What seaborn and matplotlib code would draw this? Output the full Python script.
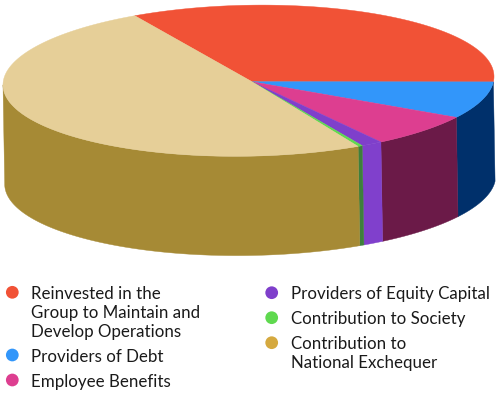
import numpy as np
import pandas as pd
import matplotlib
matplotlib.use('Agg')
import matplotlib.pyplot as plt
import seaborn as sns

# Share of each slice, percent
labels = ['Reinvested in the\nGroup to Maintain and\nDevelop Operations', 'Providers of Debt', 'Employee Benefits',
          'Providers of Equity Capital', 'Contribution to Society', 'Contribution to\nNational Exchequer']
values = [33.8, 7.8, 7.0, 1.4, 0.3, 49.7]
top_colors = ['#F15236', '#3296FA', '#DD3E90', '#7F3FCB', '#5FD94F', '#E6CF98']
side_colors = ['#A8341F', '#00306B', '#6B1A48', '#8040CC', '#3E7F3C', '#A68A35']
legend_colors = ['#F15236', '#3296FA', '#DD3E90', '#7F3FCB', '#5FD94F', '#D5A93F']

sns.set_theme(style='white')
plt.rcParams['font.family'] = ['Lato', 'DejaVu Sans']

fig = plt.figure(figsize=(5, 3.93), dpi=100)
ax = fig.add_axes([0, 0, 1, 1])
ax.set_xlim(0, 500)
ax.set_ylim(393, 0)

# Pie geometry in pixels
cx, cy = 248.5, 80.7
rx, ry = 245.5, 75.5
apex_x, apex_y = 252, 81.7
shear = 0.017      # the disc leans a little, right side up
depth = 99.3
drift = 1.7        # bottom rim sits a bit to the right
start = 117.6


def rim(t):
    dx = rx * np.cos(t)
    return cx + dx, cy - ry * np.sin(t) - shear * dx


# Slices run clockwise from the start angle
edges = start - np.cumsum([0] + values) * 3.6

for i in range(len(values)):
    a_hi, a_lo = edges[i], edges[i + 1]
    xs, ys = rim(np.radians(np.linspace(a_hi, a_lo, 200)))

    # side wall, only the front shows
    s_hi = min(a_hi, edges[1])
    s_lo = max(a_lo, -180)
    if s_hi > s_lo:
        top_x, top_y = rim(np.radians(np.linspace(s_hi, s_lo, 200)))
        ax.fill(np.r_[top_x, top_x[::-1] + drift], np.r_[top_y, top_y[::-1] + depth],
                color=side_colors[i], lw=0.3, zorder=1)

    ax.fill(np.r_[apex_x, xs], np.r_[apex_y, ys], color=top_colors[i], lw=0.3, zorder=2)

# Legend
dot_x = [12.3, 12.3, 12.3, 271.7, 271.7, 271.7]
dot_y = [292.3, 355, 380, 292.7, 317.7, 342.7]
text_x = [31, 31, 31, 290.7, 290.7, 290.7]
baselines = [299, 361.7, 386.7, 299, 324, 349]
legend_df = pd.DataFrame({'x': dot_x, 'y': dot_y, 'label': labels})
sns.scatterplot(data=legend_df, x='x', y='y', hue='label', palette=legend_colors, s=84,
                linewidth=0, legend=False, ax=ax, zorder=3, clip_on=False)
ax.axis('off')

for i in range(len(labels)):
    for j, line in enumerate(labels[i].split('\n')):
        ax.text(text_x[i], baselines[i] + 19 * j, line, fontsize=12.2, color='#1A1A1A',
                va='baseline', ha='left')

plt.savefig('out.png', dpi=100)
plt.close()
